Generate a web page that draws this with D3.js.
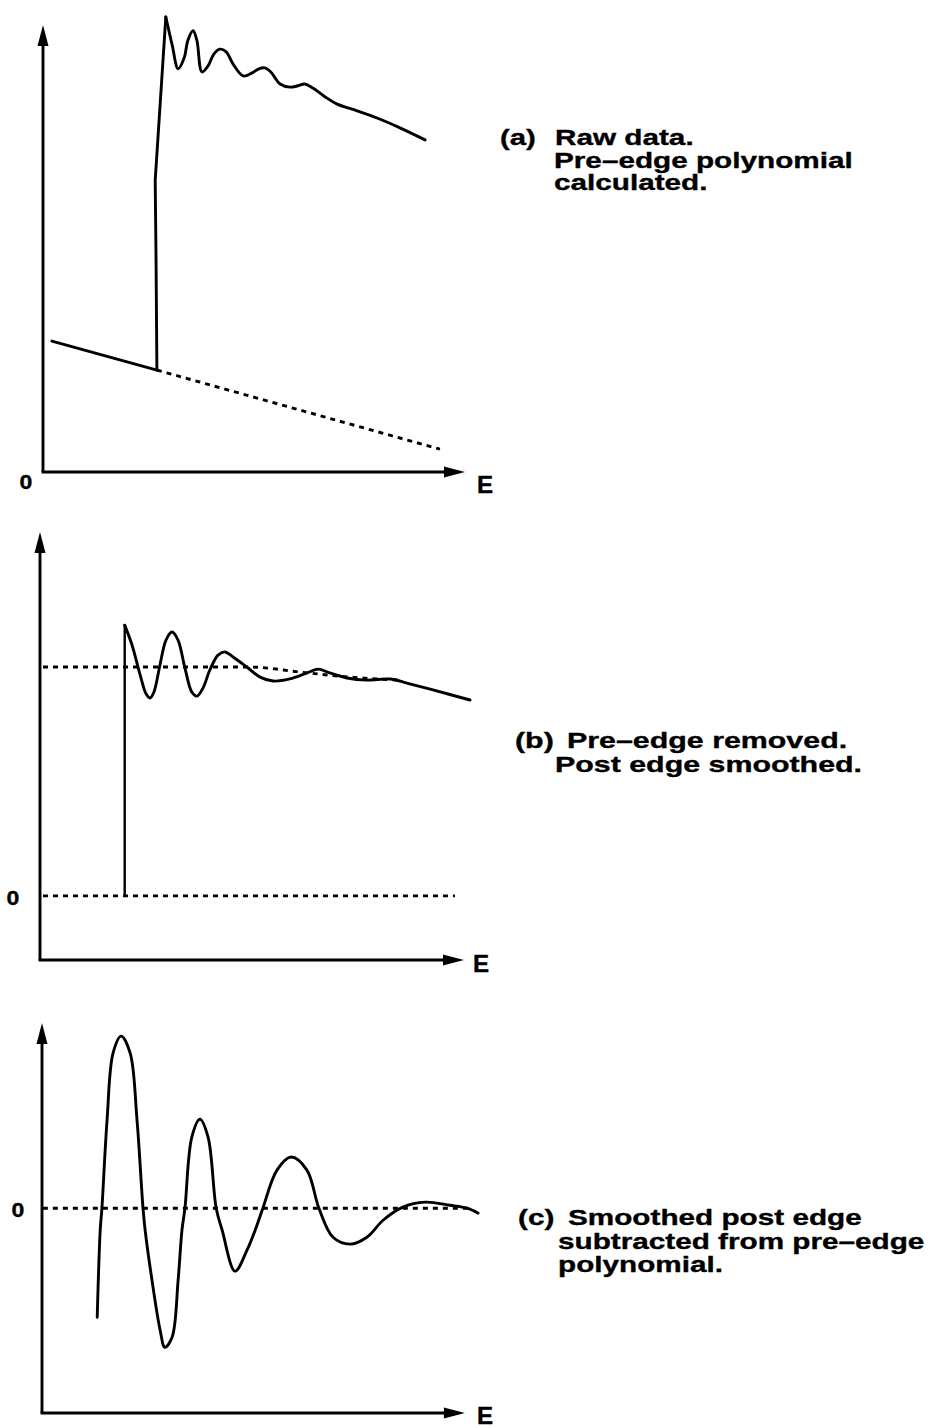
<!DOCTYPE html>
<html>
<head>
<meta charset="utf-8">
<script src="https://cdn.jsdelivr.net/npm/d3@7"></script>
<style>
  html, body { margin: 0; padding: 0; background: #fff; }
  svg { display: block; }
</style>
</head>
<body>
<script>
// ---------- data ----------
// (a) raw absorption: pre-edge region, the edge jump, and the post-edge wiggles (E, mu)
const rawPreEdge = [[2.1, 29.3], [26.8, 22.8]];
const rawEdge = [[26.8, 22.8], [26.6, 47.4], [26.4, 65.3], [28.9, 101.8]];
const rawPostEdge = [
  [28.9, 101.8], [30.4, 95.5], [31.8, 90.2], [33.2, 92.6], [34.1, 96.6], [35.3, 98.7],
  [36.2, 96.6], [37.4, 89.5], [38.8, 90.8], [40.2, 93.5], [41.6, 94.6], [43.1, 94.0],
  [44.7, 91.3], [47.1, 88.6], [49.2, 89.3], [50.8, 90.2], [52.2, 90.4], [53.6, 89.5],
  [55.8, 86.8], [58.1, 86.1], [60.0, 86.4], [61.6, 86.8], [63.5, 85.9], [66.4, 83.9],
  [69.2, 82.3], [73.9, 80.8], [78.6, 79.2], [84.0, 77.0], [89.9, 74.3]
];
// pre-edge polynomial extrapolated beyond the edge
const preEdgeFit = [[26.8, 22.8], [93.4, 5.1]];

// (b) pre-edge removed, normalised absorption
const normBaseline = [[0.7, 0], [96.5, 0]];
const normEdge = [[19.7, 0], [19.7, 1.183]];
const normPostEdge = [
  [19.7, 1.183], [21.4, 1.096], [23.3, 0.965], [24.7, 0.882], [25.6, 0.865], [26.5, 0.891],
  [27.9, 1.009], [29.3, 1.118], [30.7, 1.153], [32.1, 1.118], [33.7, 0.996], [35.3, 0.891],
  [36.5, 0.873], [37.9, 0.908], [39.5, 0.987], [41.4, 1.052], [43.0, 1.066], [44.9, 1.044],
  [48.1, 1.000], [51.2, 0.956], [54.2, 0.939], [58.1, 0.948], [62.1, 0.974], [64.7, 0.991],
  [67.4, 0.974], [71.4, 0.952], [76.0, 0.943], [81.4, 0.948], [85.3, 0.930], [91.4, 0.900],
  [100.0, 0.856]
];
const smoothPostEdge = [[0.7, 1.0], [48.8, 1.0], [60.5, 0.978], [72.1, 0.956], [83.7, 0.943]];

// (c) oscillatory part chi(E)
const chiZero = [[0.2, 0], [100, 0]];
const chiCurve = [
  [12.9, -0.634], [13.6, -0.128], [14.0, 0], [15.2, 0.512], [16.6, 0.901], [18.5, 1.000],
  [20.6, 0.901], [22.2, 0.512], [23.6, 0], [24.1, -0.128], [25.7, -0.419], [27.6, -0.709],
  [28.7, -0.808], [30.4, -0.750], [31.8, -0.419], [32.7, -0.128], [33.4, 0], [35.0, 0.413],
  [36.9, 0.517], [38.8, 0.413], [40.7, 0], [42.1, -0.128], [45.1, -0.366], [47.9, -0.244],
  [49.8, -0.128], [51.6, 0], [54.9, 0.221], [58.2, 0.297], [61.9, 0.221], [64.7, 0],
  [68.0, -0.169], [72.0, -0.209], [75.9, -0.169], [79.7, -0.070], [84.3, 0.006], [89.5, 0.035],
  [95.3, 0.017], [99.3, 0], [101.9, -0.029]
];

// text
const panelTags = ["(a)", "(b)", "(c)"];
const captionA = ["Raw data.", "Pre\u2013edge polynomial", "calculated."];
const captionB = ["Pre\u2013edge removed.", "Post edge smoothed."];
const captionC = ["Smoothed post edge", "subtracted from pre\u2013edge", "polynomial."];
const zeroLabel = "0";
const energyLabel = "E";

// ---------- drawing ----------
const W = 943, H = 1428;
const svg = d3.select("body").append("svg")
  .attr("width", W).attr("height", H)
  .attr("viewBox", `0 0 ${W} ${H}`);
svg.append("rect").attr("width", W).attr("height", H).attr("fill", "#fff");

const INK = "#000";
const FONT = "'Liberation Sans', Arial, Helvetica, sans-serif";
const LW = 2.9;

function makePanel(cfg) {
  const x = d3.scaleLinear().domain([0, 100]).range(cfg.xRange);
  const y = d3.scaleLinear().domain(cfg.yDomain).range(cfg.yRange);
  const g = svg.append("g");
  const x0 = x(0), yBase = y(cfg.yDomain[0]);
  const xTip = x(cfg.xAxisEnd), yTip = y(cfg.yDomain[1]);

  // axes with arrow heads
  g.append("line").attr("x1", x0).attr("y1", yBase).attr("x2", x0).attr("y2", yTip + 10)
    .attr("stroke", INK).attr("stroke-width", LW);
  g.append("line").attr("x1", x0 - LW / 2).attr("y1", yBase).attr("x2", xTip - 10).attr("y2", yBase)
    .attr("stroke", INK).attr("stroke-width", LW);
  g.append("path")
    .attr("d", `M${x0},${yTip} L${x0 - 5.5},${yTip + 21} L${x0 + 5.5},${yTip + 21} Z`)
    .attr("fill", INK);
  g.append("path")
    .attr("d", `M${xTip},${yBase} L${xTip - 21},${yBase - 5.5} L${xTip - 21},${yBase + 5.5} Z`)
    .attr("fill", INK);

  return { x, y, g };
}

function draw(p, data, opts) {
  const line = d3.line()
    .x(d => p.x(d[0])).y(d => p.y(d[1]))
    .curve(opts.curve || d3.curveLinear);
  p.g.append("path").datum(data)
    .attr("d", line)
    .attr("fill", "none")
    .attr("stroke", INK)
    .attr("stroke-width", opts.width || LW)
    .attr("stroke-linejoin", "round")
    .attr("stroke-linecap", opts.dotted ? "butt" : "round")
    .attr("stroke-dasharray", opts.dotted ? "5 5" : null);
}

function text(str, x, y, size, stretch) {
  const t = svg.append("text")
    .attr("x", x).attr("y", y)
    .attr("font-family", FONT)
    .attr("font-weight", "bold")
    .attr("font-size", size)
    .attr("fill", INK)
    .attr("stroke", INK)
    .attr("stroke-width", 0.35)
    .text(str);
  if (stretch && stretch !== 1) {
    const w = t.node().getComputedTextLength();
    t.attr("textLength", w * stretch).attr("lengthAdjust", "spacingAndGlyphs");
  }
  return t;
}

const smooth = d3.curveCatmullRom.alpha(0.5);

// Panel (a)
const pa = makePanel({ xRange: [43, 468], yDomain: [0, 100], yRange: [472, 25], xAxisEnd: 99.3 });
draw(pa, preEdgeFit, { dotted: true });
draw(pa, rawPreEdge, {});
draw(pa, rawEdge, {});
draw(pa, rawPostEdge, { curve: smooth });

// Panel (b)
const pb = makePanel({ xRange: [40, 470], yDomain: [-0.28, 1.59], yRange: [960, 532], xAxisEnd: 98.6 });
draw(pb, normBaseline, { dotted: true });
draw(pb, smoothPostEdge, { dotted: true, curve: d3.curveMonotoneX });
draw(pb, normEdge, { width: 2.4 });
draw(pb, normPostEdge, { curve: smooth });

// Panel (c)
const pc = makePanel({ xRange: [42, 470], yDomain: [-1.19, 1.076], yRange: [1413, 1023], xAxisEnd: 98.8 });
draw(pc, chiZero, { dotted: true });
draw(pc, chiCurve, { curve: smooth });

// axis labels
[[pa, 26, 17], [pb, 13, 9], [pc, 18, 9]].forEach(([p, cx, dy]) => {
  text(zeroLabel, cx, p.y(0) + dy, 21, 1.1).attr("text-anchor", "middle");
});
[[pa, 477, 21], [pb, 473, 12], [pc, 477, 11]].forEach(([p, x0, dy]) => {
  text(energyLabel, x0, p.y(p.y.domain()[0]) + dy, 23, 1.05);
});

// captions
const CAP = 22;
text(panelTags[0], 500, 145, CAP, 1.33);
captionA.forEach((s, i) => text(s, i === 0 ? 555 : 554, 145 + i * 22.5, CAP, 1.35));

text(panelTags[1], 515, 748, CAP, 1.38);
captionB.forEach((s, i) => text(s, i === 0 ? 567 : 555, 748 + i * 24, CAP, 1.38));

text(panelTags[2], 518, 1225, CAP, 1.35);
captionC.forEach((s, i) => text(s, i === 0 ? 568 : 558, 1225 + i * 23.5, CAP, 1.35));
</script>
</body>
</html>
